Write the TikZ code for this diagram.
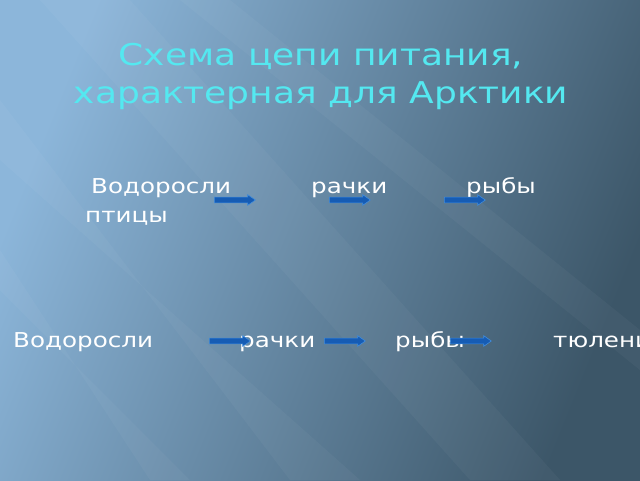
\documentclass[tikz,border=0pt]{standalone}
\usepackage{fontspec}
\setmainfont{DejaVu Sans}
\usetikzlibrary{shapes.arrows}

\definecolor{bglight}{RGB}{140,182,218}
\definecolor{bgmid}{RGB}{78,108,130}
\definecolor{bgdark}{RGB}{60,86,104}
\definecolor{titlecyan}{RGB}{84,232,240}
\definecolor{arrowfill}{RGB}{22,92,180}
\definecolor{arrowedge}{RGB}{64,140,220}

\newcommand{\wide}[1]{\scalebox{1.2}[1]{#1}}

\tikzset{
  ttl/.style={text=titlecyan, font=\fontsize{30}{36}\selectfont, anchor=base, inner sep=0pt},
  txt/.style={text=white, font=\fontsize{20.5}{24}\selectfont, anchor=base west, inner sep=0pt},
  arr/.style={single arrow, draw=arrowedge, fill=arrowfill, line width=0.6pt,
    minimum height=41pt, minimum width=10pt, inner sep=2.6pt,
    single arrow head extend=2.4pt, single arrow tip angle=70, anchor=west},
  streak/.style={white, opacity=0.035}
}

\begin{document}
\begin{tikzpicture}[x=1pt,y=-1pt]
        \useasboundingbox (0,0) rectangle (640,480);
        \clip (0,0) rectangle (640,480);
        % background
        \shade[top color=bglight, middle color=bgmid, bottom color=bgdark, shading angle=68]
              (0,0) rectangle (640,480);
        \fill[streak] (0,100) -- (0,160) -- (360,480) -- (290,480) -- cycle;
        \fill[streak] (40,0) -- (130,0) -- (560,480) -- (470,480) -- cycle;
        \fill[streak] (0,250) -- (0,290) -- (190,480) -- (150,480) -- cycle;
        \fill[streak] (180,0) -- (230,0) -- (640,330) -- (640,370) -- cycle;
        % title
        \node[ttl] (title1) at (321,65) {\wide{Схема цепи питания,}};
        \node[ttl] (title2) at (321,103) {\wide{характерная для Арктики}};
        % first chain
        \node[txt] (vod1) at (91,193) {\wide{Водоросли}};
        \node[txt] (rach1) at (311,193) {\wide{рачки}};
        \node[txt] (ryb1) at (466,193) {\wide{рыбы}};
        \node[txt] (ptic) at (85,222) {\wide{птицы}};
        \node[arr] (a11) at (214,200) {};
        \node[arr] (a12) at (329,200) {};
        \node[arr] (a13) at (444,200) {};
        % second chain
        \node[txt] (vod2) at (13,347) {\wide{Водоросли}};
        \node[txt] (rach2) at (239,347) {\wide{рачки}};
        \node[txt] (ryb2) at (395,347) {\wide{рыбы}};
        \node[txt] (tyul) at (553,347) {\wide{тюлени}};
        \node[arr] (a21) at (209,341) {};
        \node[arr] (a22) at (324,341) {};
        \node[arr] (a23) at (450,341) {};
\end{tikzpicture}
\end{document}
